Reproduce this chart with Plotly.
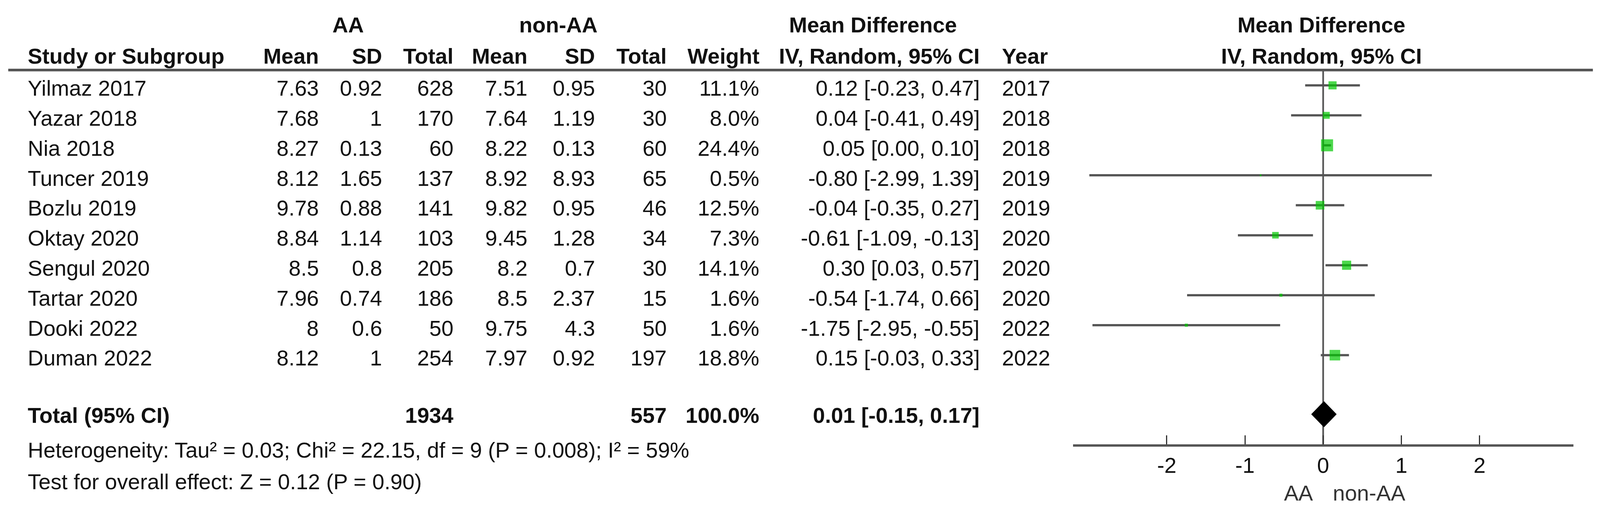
import math
import plotly.graph_objects as go

# ---------------- data ----------------
studies = ["Yilmaz 2017", "Yazar 2018", "Nia 2018", "Tuncer 2019", "Bozlu 2019",
           "Oktay 2020", "Sengul 2020", "Tartar 2020", "Dooki 2022", "Duman 2022"]
aa_mean = ["7.63", "7.68", "8.27", "8.12", "9.78", "8.84", "8.5", "7.96", "8", "8.12"]
aa_sd = ["0.92", "1", "0.13", "1.65", "0.88", "1.14", "0.8", "0.74", "0.6", "1"]
aa_total = [628, 170, 60, 137, 141, 103, 205, 186, 50, 254]
non_mean = ["7.51", "7.64", "8.22", "8.92", "9.82", "9.45", "8.2", "8.5", "9.75", "7.97"]
non_sd = ["0.95", "1.19", "0.13", "8.93", "0.95", "1.28", "0.7", "2.37", "4.3", "0.92"]
non_total = [30, 30, 60, 65, 46, 34, 30, 15, 50, 197]
weight = [11.1, 8.0, 24.4, 0.5, 12.5, 7.3, 14.1, 1.6, 1.6, 18.8]
md = [0.12, 0.04, 0.05, -0.80, -0.04, -0.61, 0.30, -0.54, -1.75, 0.15]
ci_lo = [-0.23, -0.41, 0.00, -2.99, -0.35, -1.09, 0.03, -1.74, -2.95, -0.03]
ci_hi = [0.47, 0.49, 0.10, 1.39, 0.27, -0.13, 0.57, 0.66, -0.55, 0.33]
years = [2017, 2018, 2018, 2019, 2019, 2020, 2020, 2020, 2022, 2022]

total_aa = 1934
total_non = 557
total_weight = 100.0
total_md, total_lo, total_hi = 0.01, -0.15, 0.17

heterogeneity = "Heterogeneity: Tau² = 0.03; Chi² = 22.15, df = 9 (P = 0.008); I² = 59%"
overall = "Test for overall effect: Z = 0.12 (P = 0.90)"

tick_vals = [-2, -1, 0, 1, 2]
tick_text = ["-2", "-1", "0", "1", "2"]
favours = ["AA", "non-AA"]

# ---------------- layout constants ----------------
# Reference is 4271 x 1360 px; the page viewport is 4096 px wide, so the
# figure is drawn at 4096 css px and every pixel size is scaled by S.
W, H = 4271, 1360
S = 4096 / W
FONT = "Liberation Sans, Arial, sans-serif"
FS = 58 * S
TXT = "#111111"
LINE = "#555555"
GREEN = "#00c800"

def px(x):
    return x / W

ROW0_PX, ROW_PX = 228.0, 80.08
Y_TOP = -ROW0_PX / ROW_PX
Y_BOT = (H - ROW0_PX) / ROW_PX

rows = list(range(len(studies)))
y_total = 10.97
y_het = 12.17
y_test = 13.22
y_h1 = -2.01
y_h2 = -0.97
y_axis = 12.0
y_head_line = -0.51
y_fav = 13.6
toff = 0.10

fig = go.Figure()

# zero reference line
fig.add_trace(go.Scatter(x=[0, 0], y=[y_head_line, y_axis], mode="lines",
                         line=dict(color=LINE, width=4.5 * S), hoverinfo="skip",
                         showlegend=False, cliponaxis=False))

# CI lines
xs, ys = [], []
for i, (lo, hi) in enumerate(zip(ci_lo, ci_hi)):
    xs += [lo, hi, None]
    ys += [i, i, None]
fig.add_trace(go.Scatter(x=xs, y=ys, mode="lines",
                         line=dict(color=LINE, width=6 * S), hoverinfo="skip",
                         showlegend=False, cliponaxis=False))

# squares (side proportional to sqrt(weight))
fig.add_trace(go.Scatter(x=md, y=rows, mode="markers",
                         marker=dict(symbol="square", color=GREEN,
                                     size=[6.5 * S * math.sqrt(w) for w in weight],
                                     line=dict(width=0)),
                         showlegend=False, cliponaxis=False))

# diamond
dh = 0.43
fig.add_trace(go.Scatter(x=[total_lo, total_md, total_hi, total_md, total_lo],
                         y=[y_total, y_total - dh, y_total, y_total + dh, y_total],
                         mode="lines", fill="toself", fillcolor="black",
                         line=dict(color="black", width=1), showlegend=False,
                         cliponaxis=False))

ann = []

def add(text, x, y, anchor="right", bold=False, color=TXT, size=FS):
    if bold:
        text = "<b>" + text + "</b>"
    ann.append(dict(text=text, x=px(x), xref="paper", y=y, yref="y",
                    xanchor=anchor, yanchor="middle", showarrow=False,
                    font=dict(family=FONT, size=size, color=color)))

# header rows
add("AA", 929, y_h1, "center", True)
add("non-AA", 1491, y_h1, "center", True)
add("Mean Difference", 2330, y_h1, "center", True)
add("Mean Difference", 3528, y_h1, "center", True)

add("Study or Subgroup", 72, y_h2, "left", True)
add("Mean", 853, y_h2, "right", True)
add("SD", 1022, y_h2, "right", True)
add("Total", 1213, y_h2, "right", True)
add("Mean", 1410, y_h2, "right", True)
add("SD", 1590, y_h2, "right", True)
add("Total", 1782, y_h2, "right", True)
add("Weight", 2029, y_h2, "right", True)
add("IV, Random, 95% CI", 2617, y_h2, "right", True)
add("Year", 2673, y_h2, "left", True)
add("IV, Random, 95% CI", 3528, y_h2, "center", True)

def fmt(v):
    return f"{v:.2f}"

for i in rows:
    y = i + toff
    add(studies[i], 72, y, "left")
    add(aa_mean[i], 853, y)
    add(aa_sd[i], 1022, y)
    add(str(aa_total[i]), 1213, y)
    add(non_mean[i], 1410, y)
    add(non_sd[i], 1590, y)
    add(str(non_total[i]), 1782, y)
    add(f"{weight[i]:.1f}%", 2029, y)
    add(f"{fmt(md[i])} [{fmt(ci_lo[i])}, {fmt(ci_hi[i])}]", 2617, y)
    add(str(years[i]), 2673, y, "left")

# total row
add("Total (95% CI)", 72, y_total + 0.04, "left", True)
add(str(total_aa), 1213, y_total + 0.04, "right", True)
add(str(total_non), 1782, y_total + 0.04, "right", True)
add(f"{total_weight:.1f}%", 2029, y_total + 0.04, "right", True)
add(f"{fmt(total_md)} [{fmt(total_lo)}, {fmt(total_hi)}]", 2617, y_total + 0.04, "right", True)

add(heterogeneity, 72, y_het, "left")
add(overall, 72, y_test, "left")

# favours labels
add(favours[0], 3466, y_fav, "center", color="#333333")
add(favours[1], 3654, y_fav, "center", color="#333333")

fig.update_layout(
    width=round(W * S), height=round(H * S),
    margin=dict(l=0, r=0, t=0, b=0, pad=0),
    paper_bgcolor="white", plot_bgcolor="white",
    showlegend=False,
    annotations=ann,
    xaxis=dict(domain=[px(2864), px(4200)], range=[-3.2, 3.2],
               anchor="free", position=1 - 1189 / H, side="bottom",
               showgrid=False, zeroline=False,
               showline=True, linecolor=LINE, linewidth=6 * S,
               ticks="inside", ticklen=24 * S, tickwidth=3 * S, tickcolor="#333333",
               tickvals=tick_vals, ticktext=tick_text, ticklabelstandoff=0,
               tickfont=dict(family=FONT, size=FS, color=TXT), fixedrange=True),
    yaxis=dict(domain=[0, 1], range=[Y_BOT, Y_TOP],
               visible=False, showgrid=False, zeroline=False, fixedrange=True),
    shapes=[dict(type="line", xref="paper", yref="y",
                 x0=px(22), x1=px(4252), y0=y_head_line, y1=y_head_line,
                 line=dict(color=LINE, width=7 * S))],
)

fig.write_html("out.html", config={"displayModeBar": False, "staticPlot": True},
               post_script="document.body.style.margin='0px';document.body.style.overflow='hidden';")
